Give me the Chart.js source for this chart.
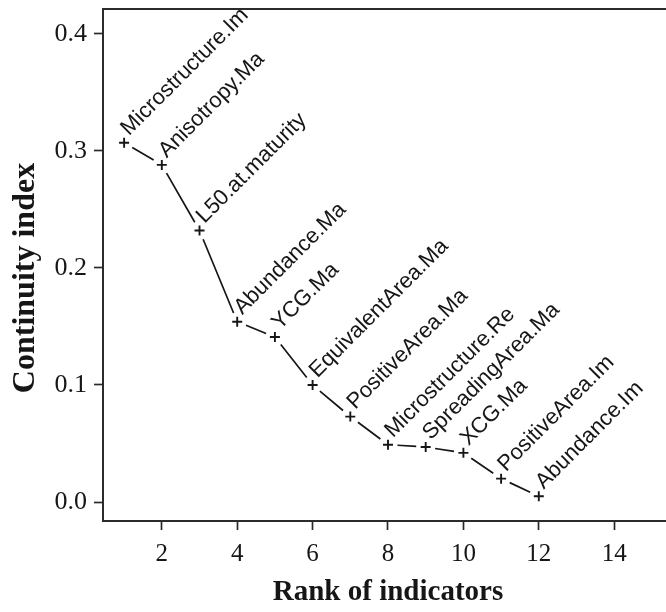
<!DOCTYPE html>
<html>
<head>
<meta charset="utf-8">
<title>Continuity index by indicator rank</title>
<script src="https://cdn.jsdelivr.net/npm/chart.js@4.4.1/dist/chart.umd.min.js"></script>
<style>
  html, body { margin: 0; padding: 0; background: #ffffff; overflow: hidden; }
  #wrap { width: 680px; height: 612px; }
</style>
</head>
<body>
<div id="wrap"><canvas id="chart" width="680" height="612"></canvas></div>
<script>
// Indicators ranked by their continuity index
const ranks = [1, 2, 3, 4, 5, 6, 7, 8, 9, 10, 11, 12];
const indicators = [
  "Microstructure.Im", "Anisotropy.Ma", "L50.at.maturity", "Abundance.Ma",
  "YCG.Ma", "EquivalentArea.Ma", "PositiveArea.Ma", "Microstructure.Re",
  "SpreadingArea.Ma", "XCG.Ma", "PositiveArea.Im", "Abundance.Im"
];
const continuity = [0.307, 0.288, 0.232, 0.154, 0.141, 0.100, 0.073, 0.049, 0.047, 0.042, 0.020, 0.005];

// Axis tick positions
const xTickValues = [2, 4, 6, 8, 10, 12, 14];
const yTickValues = [0.0, 0.1, 0.2, 0.3, 0.4];

const INK = "#161616";
const FRAME = "#2b2b2b";
const SERIF = "'Liberation Serif', 'Times New Roman', serif";
const SANS = "'Liberation Sans', Arial, sans-serif";

// Box around the plotting region
const frame = {
  id: "frame",
  afterDraw(chart) {
    const { ctx, chartArea: a } = chart;
    ctx.save();
    ctx.strokeStyle = FRAME;
    ctx.lineWidth = 2;
    ctx.strokeRect(a.left, a.top, a.right - a.left, a.bottom - a.top);
    ctx.restore();
  }
};

// Connecting line with a gap around each point marker
const gappedLine = {
  id: "gappedLine",
  beforeDatasetsDraw(chart) {
    const pts = chart.getDatasetMeta(0).data;
    const gap = 9.5;
    const { ctx } = chart;
    ctx.save();
    ctx.strokeStyle = INK;
    ctx.lineWidth = 1.7;
    ctx.beginPath();
    for (let i = 0; i < pts.length - 1; i++) {
      const p = pts[i], q = pts[i + 1];
      const dx = q.x - p.x, dy = q.y - p.y;
      const len = Math.hypot(dx, dy);
      if (len <= 2 * gap) continue;
      const ux = dx / len, uy = dy / len;
      ctx.moveTo(p.x + ux * gap, p.y + uy * gap);
      ctx.lineTo(q.x - ux * gap, q.y - uy * gap);
    }
    ctx.stroke();
    ctx.restore();
  }
};

// Slanted indicator names next to each point
const pointNames = {
  id: "pointNames",
  afterDatasetsDraw(chart) {
    const pts = chart.getDatasetMeta(0).data;
    const { ctx } = chart;
    ctx.save();
    ctx.fillStyle = INK;
    ctx.font = "22px " + SANS;
    ctx.textAlign = "left";
    ctx.textBaseline = "alphabetic";
    pts.forEach((el, i) => {
      ctx.save();
      ctx.translate(el.x + 5, el.y - 6.5);
      ctx.rotate(-Math.PI / 4);
      ctx.fillText(indicators[i], 0, 0);
      ctx.restore();
    });
    ctx.restore();
  }
};

// Vertical axis title
const yTitle = {
  id: "yTitle",
  afterDraw(chart) {
    const { ctx } = chart;
    ctx.save();
    ctx.fillStyle = INK;
    ctx.font = "bold 32px " + SERIF;
    ctx.textAlign = "center";
    ctx.textBaseline = "alphabetic";
    ctx.translate(34, 278);
    ctx.rotate(-Math.PI / 2);
    ctx.fillText("Continuity index", 0, 0);
    ctx.restore();
  }
};

new Chart(document.getElementById("chart"), {
  type: "line",
  data: {
    datasets: [{
      data: ranks.map((r, i) => ({ x: r, y: continuity[i] })),
      showLine: false,
      pointStyle: "cross",
      pointRadius: 5,
      pointHoverRadius: 5,
      pointBorderWidth: 1.9,
      pointBorderColor: INK,
      pointBackgroundColor: INK
    }]
  },
  options: {
    responsive: false,
    animation: false,
    devicePixelRatio: 1,
    layout: { padding: { left: 0, top: 9, right: 7, bottom: 0 } },
    plugins: { legend: { display: false }, tooltip: { enabled: false } },
    scales: {
      x: {
        type: "linear",
        min: 0.44,
        max: 15.56,
        afterBuildTicks(scale) { scale.ticks = xTickValues.map(v => ({ value: v })); },
        afterFit(scale) {
          scale.height = 91;
          scale.paddingLeft = 0; scale.paddingRight = 0;
        },
        grid: { drawOnChartArea: false, drawTicks: true, tickLength: 9, tickWidth: 1.7, tickColor: FRAME },
        border: { display: false },
        ticks: {
          autoSkip: false,
          maxRotation: 0,
          padding: 9,
          color: INK,
          font: { family: SERIF, size: 25 },
          callback: v => String(v)
        },
        title: {
          display: true,
          text: "Rank of indicators",
          color: INK,
          font: { family: SERIF, size: 29, weight: "bold" },
          padding: { top: 0, bottom: 2 }
        }
      },
      y: {
        type: "linear",
        min: -0.0162,
        max: 0.4212,
        afterBuildTicks(scale) { scale.ticks = yTickValues.map(v => ({ value: v })); },
        afterFit(scale) {
          scale.width = 103;
          scale.paddingTop = 0; scale.paddingBottom = 0;
        },
        grid: { drawOnChartArea: false, drawTicks: true, tickLength: 9, tickWidth: 1.7, tickColor: FRAME },
        border: { display: false },
        ticks: {
          autoSkip: false,
          padding: 7,
          color: INK,
          font: { family: SERIF, size: 26 },
          callback: v => Number(v).toFixed(1)
        }
      }
    }
  },
  plugins: [gappedLine, pointNames, frame, yTitle]
});
</script>
</body>
</html>
